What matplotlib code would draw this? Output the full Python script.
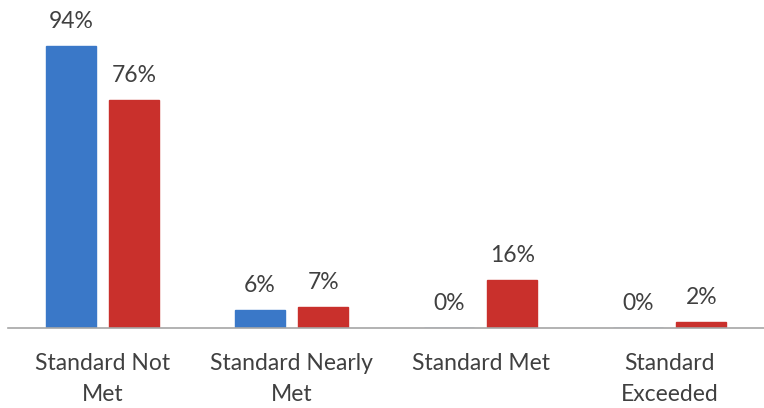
import matplotlib
matplotlib.use("Agg")
import matplotlib.pyplot as plt
import numpy as np

categories = ["Standard Not\nMet", "Standard Nearly\nMet", "Standard Met", "Standard\nExceeded"]
series_a = [94, 6, 0, 0]
series_b = [76, 7, 16, 2]
colors = ["#3A78C8", "#C9302C"]

plt.rcParams['font.family'] = ['Lato', 'DejaVu Sans']

fig = plt.figure(figsize=(7.64, 4.08), dpi=100)
ax = fig.add_axes([8/764, 80/408, 756/764, 300/408])

x = np.arange(len(categories))
w = 0.265
off = 0.168
ba = ax.bar(x - off, series_a, w, color=colors[0], edgecolor=colors[0])
bb = ax.bar(x + off, series_b, w, color=colors[1], edgecolor=colors[1])

for bars, vals in ((ba, series_a), (bb, series_b)):
    for rect, v in zip(bars, vals):
        ax.text(rect.get_x() + rect.get_width()/2, v + 8.2, f"{v}%",
                ha="center", va="center", fontsize=16.5, color="#404040", clip_on=False)

ax.set_xlim(-0.5, len(categories) - 0.5)
ax.set_ylim(0, 100)
ax.set_yticks([])
ax.set_xticks(x)
ax.set_xticklabels(categories, fontsize=16.5, color="#404040", linespacing=1.6)
ax.tick_params(axis='x', length=0, pad=18)
for s in ("top", "right", "left"):
    ax.spines[s].set_visible(False)
ax.spines["bottom"].set_color("#A6A6A6")
ax.spines["bottom"].set_linewidth(1.2)

fig.savefig("out.png", dpi=100)
